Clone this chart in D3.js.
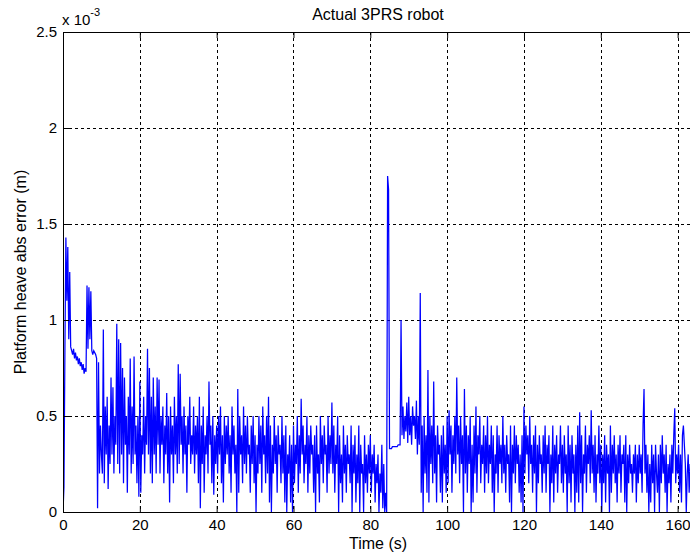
<!DOCTYPE html>
<html>
<head>
<meta charset="utf-8">
<script src="https://cdn.jsdelivr.net/npm/d3@7/dist/d3.min.js"></script>
<style>
  html, body { margin: 0; padding: 0; background: #fff; overflow: hidden; }
  text { font-family: Arial, "Liberation Sans", Helvetica, sans-serif; fill: #000; }
</style>
</head>
<body>
<svg id="chart" width="690" height="558"></svg>
<script>
// ---- data ----
const chartTitle = "Actual 3PRS robot";
const xLabel = "Time (s)";
const yLabel = "Platform heave abs error (m)";
const sampleStep = 0.25;          // seconds between samples
const xDomain = [0, 164];
const yDomain = [0, 2.5];         // in units of 1e-3 m
const xTicks = [0, 20, 40, 60, 80, 100, 120, 140, 160];
const yTicks = [0, 0.5, 1, 1.5, 2, 2.5];
const yTickLabels = ["0", "0.5", "1", "1.5", "2", "2.5"];
// heave abs error, x 1e-3 m, one value per sampleStep (5 s per row)
const heaveErr = [
  0, 0.13, 0.85, 1.43, 1.1, 1.38, 0.9, 1.25, 0.86, 0.84, 0.82, 0.85, 0.8, 0.83, 0.79, 0.81, 0.77, 0.8, 0.76, 0.78,
  0.74, 0.77, 0.72, 0.75, 0.73, 1.18, 0.85, 1.17, 0.9, 1.15, 0.84, 0.82, 0.84, 0.83, 0.82, 0.8, 0.02, 0.78, 0.2, 0.45,
  0.3, 0.2, 0.95, 0.15, 0.55, 0.3, 0.6, 0.12, 0.45, 0.25, 0.7, 0.3, 0.65, 0.2, 0.5, 0.35, 0.98, 0.25, 0.9, 0.2,
  0.88, 0.3, 0.75, 0.15, 0.7, 0.35, 0.5, 0.1, 0.6, 0.3, 0.8, 0.2, 0.55, 0.25, 0.81, 0.3, 0.45, 0.15, 0.5, 0.08,
  0.68, 0.1, 0.4, 0.3, 0.6, 0.2, 0.5, 0.35, 0.85, 0.3, 0.75, 0.2, 0.6, 0.15, 0.7, 0.3, 0.55, 0.2, 0.7, 0.35,
  0.69, 0.2, 0.5, 0.35, 0.55, 0.15, 0.45, 0.3, 0.62, 0.2, 0.5, 0.05, 0.55, 0.3, 0.45, 0.15, 0.6, 0.3, 0.5, 0.2,
  0.77, 0.25, 0.72, 0.35, 0.5, 0.2, 0.55, 0.3, 0.45, 0.1, 0.5, 0.35, 0.6, 0.25, 0.4, 0.3, 0.55, 0.2, 0.45, 0.3,
  0.5, 0.15, 0.6, 0.02, 0.45, 0.25, 0.55, 0.1, 0.4, 0.3, 0.5, 0.2, 0.68, 0.35, 0.45, 0.15, 0.5, 0.09, 0.4, 0.25,
  0.45, 0.2, 0.5, 0.3, 0.55, 0.15, 0.4, 0.05, 0.5, 0.25, 0.45, 0.3, 0.5, 0.2, 0.4, 0.1, 0.55, 0.3, 0.45, 0.2,
  0.35, 0.0, 0.64, 0.1, 0.5, 0.3, 0.4, 0.15, 0.55, 0.25, 0.45, 0.2, 0.5, 0.3, 0.35, 0.1, 0.45, 0.25, 0.5, 0.15,
  0.4, 0.0, 0.35, 0.2, 0.5, 0.25, 0.45, 0.1, 0.55, 0.3, 0.4, 0.15, 0.5, 0.2, 0.6, 0.05, 0.45, 0.0, 0.35, 0.2,
  0.5, 0.25, 0.4, 0.1, 0.45, 0.3, 0.35, 0.15, 0.5, 0.2, 0.4, 0.05, 0.45, 0.0, 0.3, 0.2, 0.4, 0.05, 0.35, 0.0,
  0.45, 0.15, 0.35, 0.25, 0.5, 0.1, 0.4, 0.2, 0.59, 0.3, 0.45, 0.15, 0.35, 0.25, 0.5, 0.1, 0.4, 0.2, 0.45, 0.3,
  0.35, 0.1, 0.4, 0.0, 0.45, 0.2, 0.3, 0.05, 0.5, 0.25, 0.4, 0.15, 0.45, 0.3, 0.35, 0.1, 0.5, 0.2, 0.4, 0.25,
  0.57, 0.2, 0.45, 0.1, 0.35, 0.25, 0.5, 0.0, 0.4, 0.15, 0.3, 0.05, 0.45, 0.2, 0.35, 0.1, 0.4, 0.25, 0.3, 0.15,
  0.45, 0.0, 0.35, 0.2, 0.4, 0.05, 0.3, 0.15, 0.45, 0.0, 0.35, 0.2, 0.25, 0.0, 0.4, 0.15, 0.3, 0.1, 0.35, 0.2,
  0.4, 0.1, 0.3, 0.2, 0.35, 0.05, 0.25, 0.15, 0.3, 0.0, 0.2, 0.1, 0.35, 0.02, 0.25, 0.0, 0.1, 0.0, 1.75, 1.68,
  0.33, 0.33, 0.33, 0.34, 0.34, 0.34, 0.34, 0.34, 0.34, 0.35, 0.35, 0.35, 1.0, 0.4, 0.55, 0.38, 0.5, 0.42, 0.57, 0.36,
  0.6, 0.4, 0.5, 0.35, 0.55, 0.45, 0.5, 0.38, 0.58, 0.3, 0.5, 0.35, 1.14, 0.1, 0.45, 0.0, 0.5, 0.2, 0.4, 0.1,
  0.74, 0.05, 0.5, 0.25, 0.45, 0.15, 0.68, 0.2, 0.4, 0.05, 0.45, 0.3, 0.35, 0.1, 0.4, 0.05, 0.45, 0.2, 0.35, 0.1,
  0.5, 0.15, 0.53, 0.3, 0.45, 0.1, 0.4, 0.25, 0.5, 0.2, 0.7, 0.3, 0.45, 0.15, 0.5, 0.25, 0.4, 0.0, 0.64, 0.2,
  0.45, 0.1, 0.4, 0.25, 0.5, 0.0, 0.35, 0.05, 0.45, 0.2, 0.55, 0.1, 0.4, 0.3, 0.5, 0.15, 0.35, 0.25, 0.45, 0.1,
  0.4, 0.2, 0.5, 0.15, 0.35, 0.25, 0.45, 0.1, 0.4, 0.0, 0.3, 0.2, 0.45, 0.1, 0.4, 0.25, 0.35, 0.15, 0.5, 0.2,
  0.35, 0.1, 0.4, 0.25, 0.3, 0.05, 0.45, 0.0, 0.35, 0.2, 0.45, 0.15, 0.4, 0.25, 0.35, 0.1, 0.3, 0.05, 0.4, 0.0,
  0.55, 0.2, 0.45, 0.3, 0.4, 0.15, 0.5, 0.25, 0.35, 0.1, 0.4, 0.2, 0.45, 0.0, 0.35, 0.15, 0.4, 0.25, 0.3, 0.1,
  0.4, 0.2, 0.45, 0.1, 0.35, 0.25, 0.4, 0.0, 0.3, 0.15, 0.45, 0.05, 0.35, 0.2, 0.4, 0.1, 0.3, 0.25, 0.45, 0.15,
  0.35, 0.1, 0.4, 0.2, 0.3, 0.0, 0.45, 0.15, 0.35, 0.05, 0.4, 0.2, 0.3, 0.0, 0.35, 0.1, 0.45, 0.05, 0.52, 0.15,
  0.4, 0.0, 0.3, 0.2, 0.45, 0.1, 0.35, 0.25, 0.4, 0.15, 0.53, 0.2, 0.35, 0.1, 0.4, 0.05, 0.3, 0.2, 0.45, 0.15,
  0.35, 0.0, 0.3, 0.15, 0.4, 0.05, 0.35, 0.2, 0.3, 0.0, 0.45, 0.1, 0.35, 0.2, 0.4, 0.15, 0.3, 0.05, 0.35, 0.2,
  0.4, 0.1, 0.3, 0.25, 0.35, 0.05, 0.4, 0.0, 0.3, 0.15, 0.35, 0.2, 0.25, 0.1, 0.3, 0.2, 0.35, 0.05, 0.3, 0.15,
  0.35, 0.2, 0.3, 0.1, 0.45, 0.64, 0.2, 0.35, 0.1, 0.3, 0.0, 0.25, 0.05, 0.35, 0.15, 0.3, 0.0, 0.35, 0.2, 0.1,
  0.3, 0.0, 0.35, 0.15, 0.4, 0.2, 0.3, 0.1, 0.35, 0.0, 0.25, 0.15, 0.3, 0.05, 0.35, 0.2, 0.4, 0.54, 0.15, 0.3,
  0.2, 0.35, 0.1, 0.3, 0.05, 0.4, 0.45, 0.35, 0.25, 0.0, 0.2, 0.3, 0.1, 0.25, 0.15, 0.3, 0.2
];

// ---- layout ----
const W = 690, H = 558;
const plot = { left: 63, top: 32, right: 693, bottom: 512 };

const svg = d3.select("#chart");
svg.append("rect").attr("width", W).attr("height", H).attr("fill", "#fff");

const x = d3.scaleLinear().domain(xDomain).range([plot.left, plot.right]);
const y = d3.scaleLinear().domain(yDomain).range([plot.bottom, plot.top]);

const pw = plot.right - plot.left, ph = plot.bottom - plot.top;

svg.append("defs").append("clipPath").attr("id", "clip")
  .append("rect").attr("x", plot.left).attr("y", plot.top - 1).attr("width", pw).attr("height", ph + 2);

// grid lines (dotted)
const gx = svg.append("g").attr("class", "grid");
gx.selectAll("line.vx").data(xTicks.filter(d => d > xDomain[0]))
  .join("line")
  .attr("x1", d => Math.round(x(d)) + 0.5).attr("x2", d => Math.round(x(d)) + 0.5)
  .attr("y1", plot.top).attr("y2", plot.bottom)
  .attr("stroke", "#000").attr("stroke-width", 1).attr("stroke-dasharray", "3,3");
gx.selectAll("line.hy").data(yTicks.filter(d => d > yDomain[0] && d < yDomain[1]))
  .join("line").attr("class", "hy")
  .attr("x1", plot.left).attr("x2", plot.right)
  .attr("y1", d => Math.round(y(d)) + 0.5).attr("y2", d => Math.round(y(d)) + 0.5)
  .attr("stroke", "#000").attr("stroke-width", 1).attr("stroke-dasharray", "3,3");

// data line
const line = d3.line()
  .x((d, i) => x(i * sampleStep))
  .y(d => y(d));
svg.append("g").attr("clip-path", "url(#clip)")
  .append("path")
  .datum(heaveErr)
  .attr("d", line)
  .attr("fill", "none")
  .attr("stroke", "#0000ff")
  .attr("stroke-width", 1.25)
  .attr("stroke-linejoin", "miter");

// axes (MATLAB style: inward ticks, box)
const xAxis = d3.axisBottom(x).tickValues(xTicks).tickFormat(d3.format("d"))
  .tickSizeInner(-6).tickSizeOuter(0).tickPadding(7);
const gxa = svg.append("g").attr("transform", `translate(0,${plot.bottom})`).call(xAxis);
const yAxis = d3.axisLeft(y).tickValues(yTicks).tickFormat((d, i) => yTickLabels[i])
  .tickSizeInner(-6).tickSizeOuter(0).tickPadding(6);
const gya = svg.append("g").attr("transform", `translate(${plot.left},0)`).call(yAxis);
const xAxisTop = d3.axisTop(x).tickValues(xTicks).tickFormat("").tickSizeInner(-6).tickSizeOuter(0);
const gxt = svg.append("g").attr("transform", `translate(0,${plot.top})`).call(xAxisTop);

[gxa, gya, gxt].forEach(g => {
  g.select(".domain").attr("stroke", "#000").attr("stroke-width", 1);
  g.selectAll(".tick line").attr("stroke", "#000");
  g.selectAll("text").attr("font-size", 15).attr("fill", "#000")
    .attr("font-family", "Arial, 'Liberation Sans', sans-serif");
});

// exponent label
const expo = svg.append("text").attr("x", 62).attr("y", 25).attr("font-size", 15);
expo.append("tspan").text("x 10");
expo.append("tspan").attr("font-size", 11).attr("dy", -9).text("-3");

// title and labels
svg.append("text").attr("x", (plot.left + plot.right) / 2).attr("y", 20)
  .attr("text-anchor", "middle").attr("font-size", 16).text(chartTitle);
svg.append("text").attr("x", (plot.left + plot.right) / 2).attr("y", 549)
  .attr("text-anchor", "middle").attr("font-size", 16).text(xLabel);
svg.append("text")
  .attr("transform", `translate(26,${(plot.top + plot.bottom) / 2}) rotate(-90)`)
  .attr("text-anchor", "middle").attr("font-size", 16).text(yLabel);
</script>
</body>
</html>
